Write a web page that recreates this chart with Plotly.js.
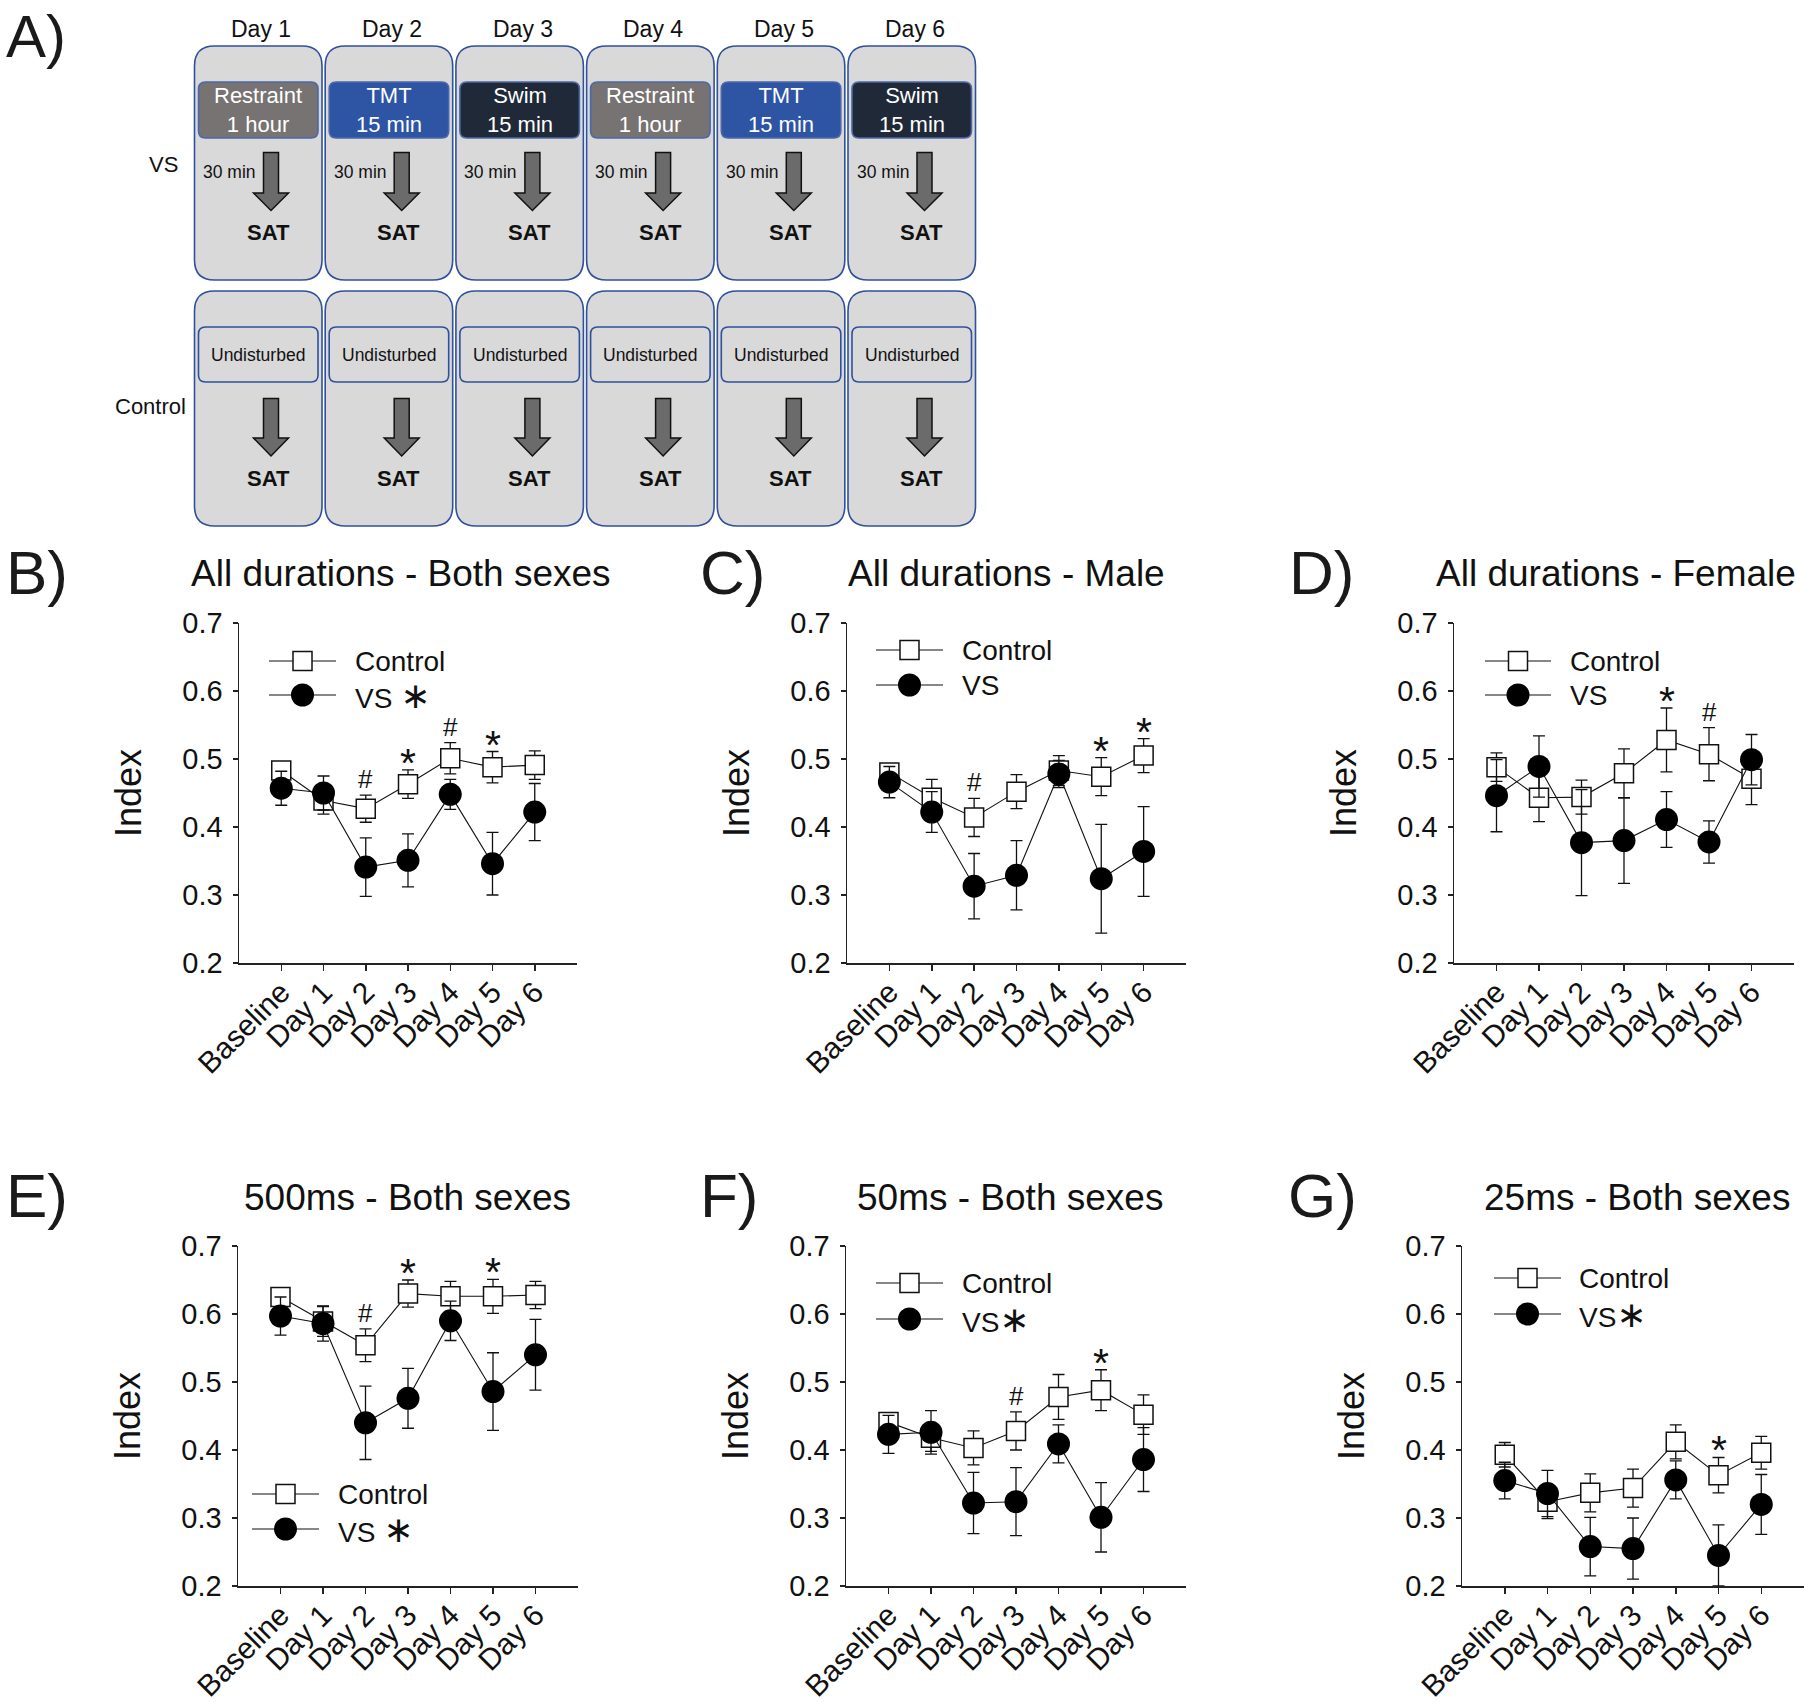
<!DOCTYPE html>
<html>
<head>
<meta charset="utf-8">
<script src="https://cdn.plot.ly/plotly-3.0.1.min.js"></script>
<style>html,body{margin:0;padding:0;background:#fff;}</style>
</head>
<body>
<div id="chart" style="width:1810px;height:1707px;"></div>
<script>
// ---------------- DATA ----------------
const days = ['Baseline', 'Day 1', 'Day 2', 'Day 3', 'Day 4', 'Day 5', 'Day 6'];

// B) All durations - Both sexes
const bControl    = [0.483, 0.439, 0.427, 0.463, 0.501, 0.488, 0.491];
const bControlErr = [0.010, 0.020, 0.020, 0.021, 0.023, 0.023, 0.021];
const bVS         = [0.457, 0.450, 0.341, 0.351, 0.448, 0.346, 0.422];
const bVSErr      = [0.025, 0.025, 0.043, 0.039, 0.022, 0.046, 0.042];
const bSig        = ['', '', '#', '*', '#', '*', ''];

// C) All durations - Male
const cControl    = [0.480, 0.443, 0.414, 0.452, 0.483, 0.474, 0.505];
const cControlErr = [0.010, 0.027, 0.028, 0.025, 0.022, 0.028, 0.025];
const cVS         = [0.466, 0.422, 0.313, 0.329, 0.478, 0.324, 0.364];
const cVSErr      = [0.023, 0.030, 0.048, 0.051, 0.020, 0.080, 0.066];
const cSig        = ['', '', '#', '', '', '*', '*'];

// D) All durations - Female
const dControl    = [0.488, 0.443, 0.444, 0.479, 0.528, 0.507, 0.471];
const dControlErr = [0.021, 0.035, 0.025, 0.036, 0.047, 0.039, 0.038];
const dVS         = [0.446, 0.489, 0.377, 0.380, 0.411, 0.378, 0.499];
const dVSErr      = [0.053, 0.045, 0.078, 0.063, 0.041, 0.031, 0.037];
const dSig        = ['', '', '', '', '*', '#', ''];

// E) 500ms - Both sexes
const eControl    = [0.625, 0.589, 0.554, 0.630, 0.626, 0.626, 0.628];
const eControlErr = [0.010, 0.022, 0.024, 0.020, 0.022, 0.025, 0.020];
const eVS         = [0.597, 0.586, 0.440, 0.476, 0.590, 0.486, 0.540];
const eVSErr      = [0.028, 0.026, 0.054, 0.044, 0.029, 0.057, 0.052];
const eSig        = ['', '', '#', '*', '', '*', ''];

// F) 50ms - Both sexes
const fControl    = [0.441, 0.418, 0.403, 0.428, 0.478, 0.488, 0.452];
const fControlErr = [0.014, 0.020, 0.025, 0.028, 0.033, 0.030, 0.029];
const fVS         = [0.423, 0.426, 0.322, 0.324, 0.409, 0.301, 0.386];
const fVSErr      = [0.028, 0.032, 0.045, 0.050, 0.028, 0.051, 0.047];
const fSig        = ['', '', '', '#', '', '*', ''];

// G) 25ms - Both sexes
const gControl    = [0.393, 0.324, 0.337, 0.344, 0.412, 0.363, 0.396];
const gControlErr = [0.018, 0.025, 0.028, 0.028, 0.025, 0.026, 0.024];
const gVS         = [0.355, 0.336, 0.258, 0.255, 0.356, 0.245, 0.320];
const gVSErr      = [0.027, 0.034, 0.043, 0.045, 0.028, 0.045, 0.044];
const gSig        = ['', '', '', '', '', '*', ''];

const panelLetters = ['B)', 'C)', 'D)', 'E)', 'F)', 'G)'];
const panelTitles  = ['All durations - Both sexes', 'All durations - Male', 'All durations - Female',
                      '500ms - Both sexes', '50ms - Both sexes', '25ms - Both sexes'];
const legendControl = ['Control', 'Control', 'Control', 'Control', 'Control', 'Control'];
const legendVS      = ['VS ∗', 'VS', 'VS', 'VS ∗', 'VS∗', 'VS∗'];
const yTitle = 'Index';

// Panel A protocol
const protoDays   = ['Day 1', 'Day 2', 'Day 3', 'Day 4', 'Day 5', 'Day 6'];
const stressors   = ['Restraint', 'TMT', 'Swim', 'Restraint', 'TMT', 'Swim'];
const stressDur   = ['1 hour', '15 min', '15 min', '1 hour', '15 min', '15 min'];
const delayText   = '30 min';
const testText    = 'SAT';
const controlText = 'Undisturbed';
const rowLabels   = ['VS', 'Control'];

// ---------------- LAYOUT HELPERS ----------------
const W = 1810, H = 1707;
const X = p => p / W;
const Y = p => 1 - p / H;
const P = (x, y) => X(x) + ',' + Y(y);
const FONT = 'Liberation Sans, Arial, Helvetica, sans-serif';
const INK = '#111111';

const series = [
  [bControl, bControlErr, bVS, bVSErr, bSig],
  [cControl, cControlErr, cVS, cVSErr, cSig],
  [dControl, dControlErr, dVS, dVSErr, dSig],
  [eControl, eControlErr, eVS, eVSErr, eSig],
  [fControl, fControlErr, fVS, fVSErr, fSig],
  [gControl, gControlErr, gVS, gVSErr, gSig]
];

// pixel geometry of each plot panel
const geo = [
  {l: 239,  r: 577,  t: 623,  b: 963,  lx: 4,    ly: 572,  tx: 401,  ty: 573,  leg: {yc: 661,  yv: 695,  x1: 269,  x2: 336,  tx: 353}},
  {l: 847,  r: 1186, t: 623,  b: 963,  lx: 698,  ly: 572,  tx: 1006, ty: 573,  leg: {yc: 650,  yv: 685,  x1: 876,  x2: 943,  tx: 960}},
  {l: 1454, r: 1794, t: 623,  b: 963,  lx: 1287, ly: 572,  tx: 1616, ty: 573,  leg: {yc: 661,  yv: 695,  x1: 1485, x2: 1551, tx: 1568}},
  {l: 238,  r: 578,  t: 1246, b: 1586, lx: 4,    ly: 1195, tx: 407,  ty: 1197, leg: {yc: 1494, yv: 1529, x1: 252,  x2: 319,  tx: 336}},
  {l: 846,  r: 1186, t: 1246, b: 1586, lx: 698,  ly: 1195, tx: 1010, ty: 1197, leg: {yc: 1283, yv: 1319, x1: 876,  x2: 943,  tx: 960}},
  {l: 1462, r: 1804, t: 1246, b: 1586, lx: 1286, ly: 1195, tx: 1637, ty: 1197, leg: {yc: 1278, yv: 1314, x1: 1494, x2: 1561, tx: 1577}}
];

const traces = [];
const layout = {
  width: W, height: H,
  margin: {l: 0, r: 0, t: 0, b: 0, pad: 0},
  paper_bgcolor: '#ffffff',
  plot_bgcolor: 'rgba(0,0,0,0)',
  font: {family: FONT, color: INK},
  showlegend: false,
  hovermode: false,
  shapes: [],
  annotations: []
};

function ann(o) {
  layout.annotations.push(Object.assign({xref: 'paper', yref: 'paper', showarrow: false,
    xanchor: 'center', yanchor: 'middle'}, o));
}

geo.forEach((g, k) => {
  const s = k === 0 ? '' : String(k + 1);
  const [ctl, ctlErr, vs, vsErr, sig] = series[k];
  const xa = 'x' + s, ya = 'y' + s;

  traces.push({
    type: 'scatter', mode: 'lines+markers', x: days, y: ctl,
    xaxis: xa, yaxis: ya, cliponaxis: false, name: 'Control',
    error_y: {type: 'data', array: ctlErr, visible: true, color: INK, thickness: 1.3, width: 6},
    line: {color: INK, width: 1.1},
    marker: {symbol: 'square', size: 19, color: '#ffffff', line: {color: INK, width: 1.5}}
  });
  traces.push({
    type: 'scatter', mode: 'lines+markers', x: days, y: vs,
    xaxis: xa, yaxis: ya, cliponaxis: false, name: 'VS',
    error_y: {type: 'data', array: vsErr, visible: true, color: INK, thickness: 1.3, width: 6},
    line: {color: INK, width: 1.1},
    marker: {symbol: 'circle', size: 23, color: '#000000', line: {width: 0}}
  });

  layout['xaxis' + s] = {
    domain: [X(g.l), X(g.r)], anchor: ya, type: 'category',
    categoryorder: 'array', categoryarray: days, range: [-1, 7],
    showline: true, linecolor: '#222', linewidth: 1.5,
    ticks: 'outside', ticklen: 6, tickwidth: 1.5, tickcolor: '#222',
    tickangle: -45, tickfont: {size: 30, family: FONT, color: INK}, ticklabelstandoff: -8,
    showgrid: false, zeroline: false, fixedrange: true
  };
  layout['yaxis' + s] = {
    domain: [Y(g.b), Y(g.t)], anchor: xa, range: [0.2, 0.7],
    tickmode: 'linear', tick0: 0.2, dtick: 0.1, tickformat: '.1f',
    showline: true, linecolor: '#222', linewidth: 1.5,
    ticks: 'outside', ticklen: 5, tickwidth: 1.5, tickcolor: '#222',
    tickfont: {size: 29, family: FONT, color: INK}, ticklabelstandoff: 4,
    showgrid: false, zeroline: false, fixedrange: true,
    title: {text: yTitle, font: {size: 36, family: FONT, color: INK}, standoff: 30}
  };

  // significance markers above the highest error bar
  sig.forEach((m, i) => {
    if (!m) return;
    const top = Math.max(ctl[i] + ctlErr[i], vs[i] + vsErr[i]);
    const isHash = m === '#';
    layout.annotations.push({
      xref: xa, yref: ya, x: days[i], y: top, yshift: isHash ? 16 : 7,
      xanchor: 'center', yanchor: 'middle', showarrow: false, text: m,
      font: {size: isHash ? 26 : 41, family: FONT, color: INK}
    });
  });

  // panel letter + title
  ann({x: X(g.lx), y: Y(g.ly), xanchor: 'left', text: panelLetters[k], font: {size: 62, family: FONT, color: '#1a1a1a'}});
  ann({x: X(g.tx), y: Y(g.ty), text: panelTitles[k], font: {size: 37, family: FONT, color: INK}});

  // legend drawn inside the panel
  const L = g.leg, mx = (L.x1 + L.x2) / 2;
  [L.yc, L.yv].forEach(yy => {
    layout.shapes.push({type: 'line', xref: 'paper', yref: 'paper', x0: X(L.x1), x1: X(L.x2), y0: Y(yy), y1: Y(yy),
      line: {color: INK, width: 1.1}});
  });
  layout.shapes.push({type: 'rect', xref: 'paper', yref: 'paper', xsizemode: 'pixel', ysizemode: 'pixel',
    xanchor: X(mx), yanchor: Y(L.yc), x0: -9.5, x1: 9.5, y0: -9.5, y1: 9.5,
    fillcolor: '#ffffff', line: {color: INK, width: 1.5}});
  layout.shapes.push({type: 'circle', xref: 'paper', yref: 'paper', xsizemode: 'pixel', ysizemode: 'pixel',
    xanchor: X(mx), yanchor: Y(L.yv), x0: -11.5, x1: 11.5, y0: -11.5, y1: 11.5,
    fillcolor: '#000000', line: {width: 0}});
  ann({x: X(L.tx), y: Y(L.yc), xanchor: 'left', text: legendControl[k], font: {size: 28, family: FONT, color: INK}});
  const vsTxt = legendVS[k].replace('∗', '<span style="font-family:DejaVu Sans;font-size:36px">∗</span>');
  ann({x: X(L.tx), y: Y(L.yv), xanchor: 'left', text: vsTxt, font: {size: 28, family: FONT, color: INK}});
});

// ---------------- PANEL A (protocol diagram) ----------------
function rrect(x0, y0, x1, y1, r) {
  return 'M' + P(x0 + r, y0) + ' L' + P(x1 - r, y0) + ' Q' + P(x1, y0) + ' ' + P(x1, y0 + r) +
         ' L' + P(x1, y1 - r) + ' Q' + P(x1, y1) + ' ' + P(x1 - r, y1) +
         ' L' + P(x0 + r, y1) + ' Q' + P(x0, y1) + ' ' + P(x0, y1 - r) +
         ' L' + P(x0, y0 + r) + ' Q' + P(x0, y0) + ' ' + P(x0 + r, y0) + ' Z';
}
function arrow(cx, y0, yh, y1) {
  const sw = 7.5, hw = 17.5;
  return 'M' + P(cx - sw, y0) + ' L' + P(cx + sw, y0) + ' L' + P(cx + sw, yh) + ' L' + P(cx + hw, yh) +
         ' L' + P(cx, y1) + ' L' + P(cx - hw, yh) + ' L' + P(cx - sw, yh) + ' Z';
}
const stressFill = {'Restraint': '#777372', 'TMT': '#2e55a4', 'Swim': '#202938'};
const boxBlue = '#2f509c';

protoDays.forEach((d, i) => {
  const L = 194.5 + 130.7 * i, R = L + 127.5, C = (L + R) / 2;
  // row boxes
  layout.shapes.push({type: 'path', xref: 'paper', yref: 'paper', path: rrect(L, 46, R, 280, 20),
    fillcolor: '#d9d9d9', line: {color: boxBlue, width: 1.6}});
  layout.shapes.push({type: 'path', xref: 'paper', yref: 'paper', path: rrect(L, 291, R, 526, 20),
    fillcolor: '#d9d9d9', line: {color: boxBlue, width: 1.6}});
  // stressor box
  layout.shapes.push({type: 'path', xref: 'paper', yref: 'paper', path: rrect(L + 4, 82, R - 4, 138, 7),
    fillcolor: stressFill[stressors[i]], line: {color: '#4b68a8', width: 1.6}});
  // undisturbed box
  layout.shapes.push({type: 'path', xref: 'paper', yref: 'paper', path: rrect(L + 4, 327, R - 4, 382, 7),
    fillcolor: '#d9d9d9', line: {color: boxBlue, width: 1.6}});
  // arrows
  layout.shapes.push({type: 'path', xref: 'paper', yref: 'paper', path: arrow(L + 76.5, 152.5, 193, 210.5),
    fillcolor: '#6b6b6b', line: {color: '#111', width: 1.5}});
  layout.shapes.push({type: 'path', xref: 'paper', yref: 'paper', path: arrow(L + 76.5, 398.5, 438, 456),
    fillcolor: '#6b6b6b', line: {color: '#111', width: 1.5}});

  ann({x: X(C + 3), y: Y(29), text: d, font: {size: 23, family: FONT, color: INK}});
  ann({x: X(C), y: Y(110), text: stressors[i] + '<br>' + stressDur[i], font: {size: 22, family: FONT, color: '#ffffff'}});
  ann({x: X(L + 35), y: Y(172), text: delayText, font: {size: 17.5, family: FONT, color: INK}});
  ann({x: X(L + 73.5), y: Y(232.5), text: '<b>' + testText + '</b>', font: {size: 22, family: FONT, color: INK}});
  ann({x: X(C), y: Y(354.5), text: controlText, font: {size: 17.5, family: FONT, color: INK}});
  ann({x: X(L + 73.5), y: Y(478.5), text: '<b>' + testText + '</b>', font: {size: 22, family: FONT, color: INK}});
});
ann({x: X(163), y: Y(165), text: rowLabels[0], font: {size: 22, family: FONT, color: INK}});
ann({x: X(150), y: Y(406), text: rowLabels[1], font: {size: 22, family: FONT, color: INK}});
ann({x: X(4), y: Y(1), xanchor: 'left', yanchor: 'top', text: 'A)', font: {size: 60, family: FONT, color: '#1a1a1a'}});

Plotly.newPlot('chart', traces, layout, {staticPlot: true, displayModeBar: false});
</script>
</body>
</html>
